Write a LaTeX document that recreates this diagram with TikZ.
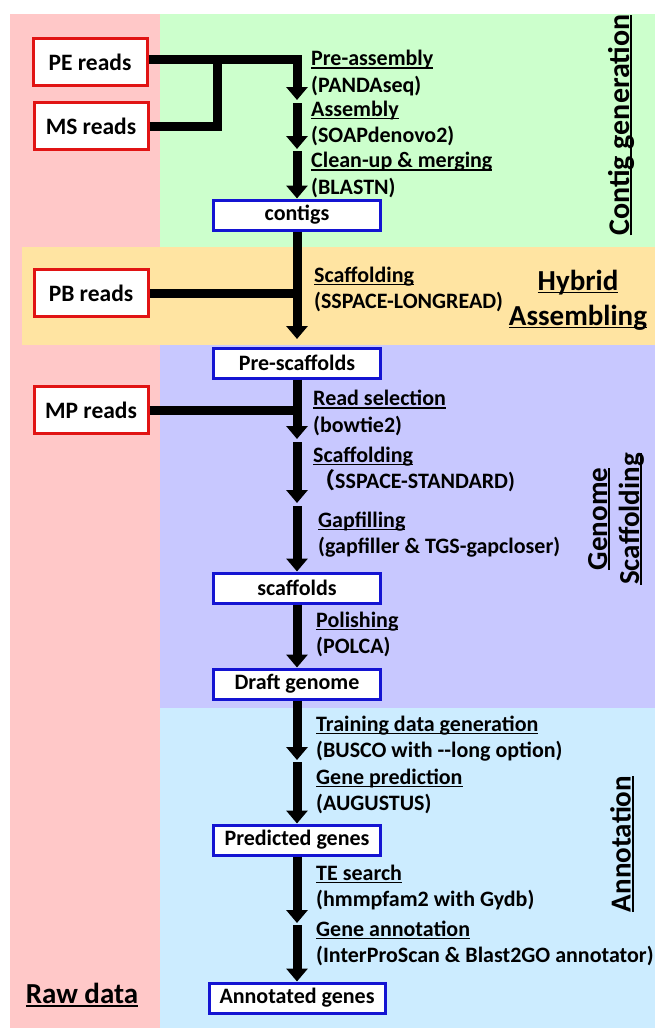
\documentclass[tikz,border=0pt]{standalone}
\usepackage{fontspec}
\setmainfont{Carlito}
\newfontfamily\cjk{Noto Sans CJK SC}
\newcommand{\ultext}[1]{\setbox0\hbox{#1}\rlap{\rule[-3pt]{\wd0}{1.6pt}}\box0}
\usetikzlibrary{arrows.meta}
\definecolor{rawpink}{RGB}{255,200,200}
\definecolor{contiggreen}{RGB}{204,255,204}
\definecolor{hybridorange}{RGB}{255,228,162}
\definecolor{scafpurple}{RGB}{200,200,255}
\definecolor{annotblue}{RGB}{204,236,255}
\definecolor{readred}{RGB}{225,20,20}
\definecolor{datablue}{RGB}{20,20,210}
\begin{document}
\begin{tikzpicture}[x=1pt,y=-1pt]
		\tikzset{readbox/.style={draw=readred, line width=3pt, fill=white, minimum width=114pt, minimum height=47pt, font=\fontsize{23.5}{27}\selectfont\bfseries}}
		\tikzset{databox/.style={draw=datablue, line width=3pt, fill=white, minimum width=167pt, minimum height=30pt, inner sep=2pt, font=\fontsize{22}{25}\selectfont\bfseries}}
		\tikzset{steplabel/.style={anchor=west, align=left, inner sep=0pt, font=\fontsize{22}{26.5}\selectfont\bfseries}}
		\tikzset{phase/.style={align=center, inner sep=0pt, font=\fontsize{29}{35}\selectfont\bfseries}}
		\tikzset{flow/.style={line width=9pt, -{Triangle[width=21pt,length=13pt]}}}
		\tikzset{feed/.style={line width=9pt}}
		\useasboundingbox (0,0) rectangle (655,1028);

    % coloured bands
    \fill[rawpink] (10,14) rectangle (160,1028);
    \fill[contiggreen] (160,14) rectangle (655,247);
    \fill[hybridorange] (22,247) rectangle (655,345);
    \fill[scafpurple] (160,345) rectangle (655,708);
    \fill[annotblue] (160,708) rectangle (655,1028);

		\node[readbox] (PE) at (90,62) {PE reads};
		\node[readbox] (MS) at (91,126) {MS reads};
		\node[readbox] (PB) at (91,293) {PB reads};
		\node[readbox] (MP) at (91,410) {MP reads};

		\node[databox] (contigs) at (297,215) {contigs};
		\node[databox] (prescaf) at (297,363) {Pre-scaffolds};
		\node[databox] (scaf) at (297,588) {scaffolds};
		\node[databox] (draft) at (297,684) {Draft genome};
		\node[databox] (pred) at (297,840) {Predicted genes};
		\node[databox, minimum width=176pt] (annot) at (297,998) {Annotated genes};

		\coordinate (pejoin) at (217,59);
		\coordinate (pa) at (297,100);
		\coordinate (as0) at (297,103);
		\coordinate (as) at (297,149);
		\coordinate (cu0) at (297,151);
		\coordinate (pbjoin) at (297,293);
		\coordinate (hy) at (297,339);
		\coordinate (mpjoin) at (297,410);
		\coordinate (rs) at (297,439);
		\coordinate (ss0) at (297,442);
		\coordinate (ss) at (297,503);
		\coordinate (gf0) at (297,506);
		\coordinate (td) at (297,760);
		\coordinate (gp0) at (297,762);
		\coordinate (te) at (297,923);
		\coordinate (ga0) at (297,925);

    \draw[feed] (MS.east) -| (pejoin);
    \draw[flow] (PE.east |- pejoin) -| (pa);
    \draw[flow] (as0) -- (as);
    \draw[flow] (cu0) -- (contigs.north);
    \draw[feed] (PB.east) -- (pbjoin);
    \draw[flow] (contigs.south) -- (hy);
    \draw[feed] (MP.east) -- (mpjoin);
    \draw[flow] (prescaf.south) -- (rs);
    \draw[flow] (ss0) -- (ss);
    \draw[flow] (gf0) -- (scaf.north);
    \draw[flow] (scaf.south) -- (draft.north);
    \draw[flow] (draft.south) -- (td);
    \draw[flow] (gp0) -- (pred.north);
    \draw[flow] (pred.south) -- (te);
    \draw[flow] (ga0) -- (annot.north);

		\node[steplabel] (preasm) at (311,73) {\ultext{Pre-assembly}\\(PANDAseq)};
		\node[steplabel] (asm) at (311,123.5) {\ultext{Assembly}\\(SOAPdenovo2)};
		\node[steplabel] (cleanup) at (311,175) {\ultext{Clean-up \& merging}\\(BLASTN)};
		\node[steplabel] (hyscaf) at (314,289.5) {\ultext{Scaffolding}\\(SSPACE-LONGREAD)};
		\node[steplabel] (readsel) at (313,413) {\ultext{Read selection}\\(bowtie2)};
		\node[steplabel] (stdscaf) at (313,469.5) {\ultext{Scaffolding}\\{\cjk （}SSPACE-STANDARD)};
		\node[steplabel] (gapfill) at (318,534.5) {\ultext{Gapfilling}\\(gapfiller \& TGS-gapcloser)};
		\node[steplabel] (polish) at (316,634.5) {\ultext{Polishing}\\(POLCA)};
		\node[steplabel] (train) at (316,738.5) {\ultext{Training data generation}\\(BUSCO with -{}-long option)};
		\node[steplabel] (genepred) at (316,791.5) {\ultext{Gene prediction}\\(AUGUSTUS)};
		\node[steplabel] (tesearch) at (316,887.5) {\ultext{TE search}\\(hmmpfam2 with Gydb)};
		\node[steplabel] (geneannot) at (316,943.5) {\ultext{Gene annotation}\\(InterProScan \& Blast2GO annotator)};

		\node[phase, rotate=90, font=\fontsize{30}{35}\selectfont\bfseries] (contiggen) at (621,125) {\ultext{Contig generation}};
		\node[phase] (hybrid) at (578,300) {\ultext{Hybrid}\\\ultext{Assembling}};
		\node[phase, rotate=90, font=\fontsize{29}{32}\selectfont\bfseries] (genscaf) at (616,519) {\ultext{Genome}\\\ultext{Scaffolding}};
		\node[phase, rotate=90] (annotphase) at (622,844) {\ultext{Annotation}};
		\node[phase] (rawdata) at (82,995) {\ultext{Raw data}};

		\end{tikzpicture}
\end{document}
